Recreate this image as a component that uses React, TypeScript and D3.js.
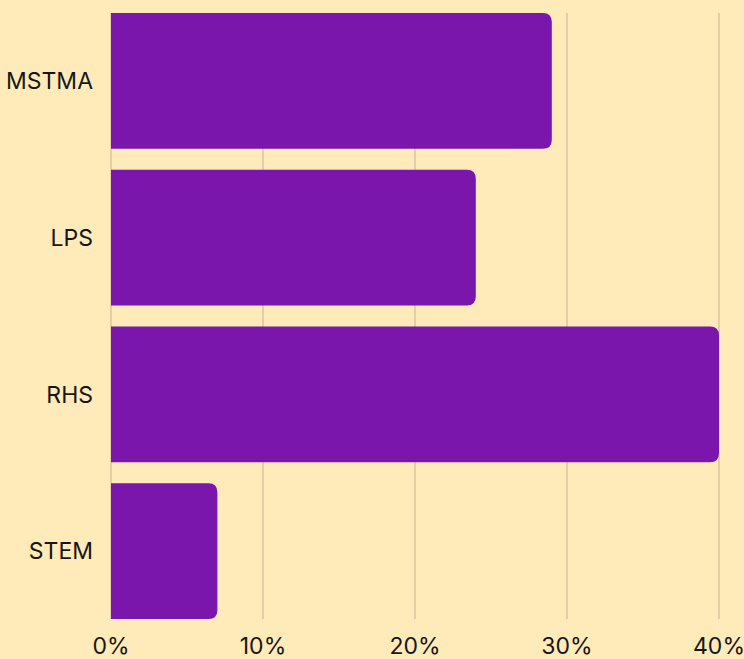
import React, { useEffect, useRef } from "react";
import * as d3 from "d3";

const categories = ["MSTMA", "LPS", "RHS", "STEM"];
const values = [29, 24, 40, 7];
const ticks = [0, 10, 20, 30, 40];

const W = 744;
const H = 659;

function App() {
  const ref = useRef<SVGSVGElement>(null);

  useEffect(() => {
    document.body.style.margin = "0";
    const svg = d3.select(ref.current).attr("width", W).attr("height", H);
    svg.selectAll("*").remove();

    svg.append("rect").attr("width", W).attr("height", H).attr("fill", "#FFEAB9");

    const x = d3.scaleLinear().domain([0, 40]).range([111, 719]);
    const y = d3.scaleBand().domain(categories).range([13, 619]).paddingInner(0.134).paddingOuter(0);

    // grid lines
    svg.append("g")
      .selectAll("line")
      .data(ticks)
      .enter()
      .append("line")
      .attr("x1", (d) => x(d))
      .attr("x2", (d) => x(d))
      .attr("y1", 13)
      .attr("y2", 619)
      .attr("stroke", "#C4B498")
      .attr("stroke-width", 1);

    // bars, rounded on the right side only
    const r = 9;
    svg.append("g")
      .selectAll("path")
      .data(values)
      .enter()
      .append("path")
      .attr("d", (d, i) => {
        const x0 = x(0);
        const x1 = x(d);
        const y0 = y(categories[i])!;
        const y1 = y0 + y.bandwidth();
        return `M${x0},${y0}H${x1 - r}Q${x1},${y0} ${x1},${y0 + r}V${y1 - r}Q${x1},${y1} ${x1 - r},${y1}H${x0}Z`;
      })
      .attr("fill", "#7B16AD");

    // category labels
    svg.append("g")
      .selectAll("text")
      .data(categories)
      .enter()
      .append("text")
      .attr("x", 93)
      .attr("y", (d) => y(d)! + y.bandwidth() / 2)
      .attr("dy", "0.36em")
      .attr("text-anchor", "end")
      .style("font-family", "Inter, sans-serif")
      .style("font-size", "23px")
      .attr("fill", "#161616")
      .text((d) => d);

    // tick labels
    svg.append("g")
      .selectAll("text")
      .data(ticks)
      .enter()
      .append("text")
      .attr("x", (d) => x(d))
      .attr("y", 654)
      .attr("text-anchor", "middle")
      .style("font-family", "Inter, sans-serif")
      .style("font-size", "23px")
      .attr("fill", "#161616")
      .text((d) => d + "%");
  }, []);

  return <svg ref={ref} style={{ display: "block" }} />;
}

export default App;
